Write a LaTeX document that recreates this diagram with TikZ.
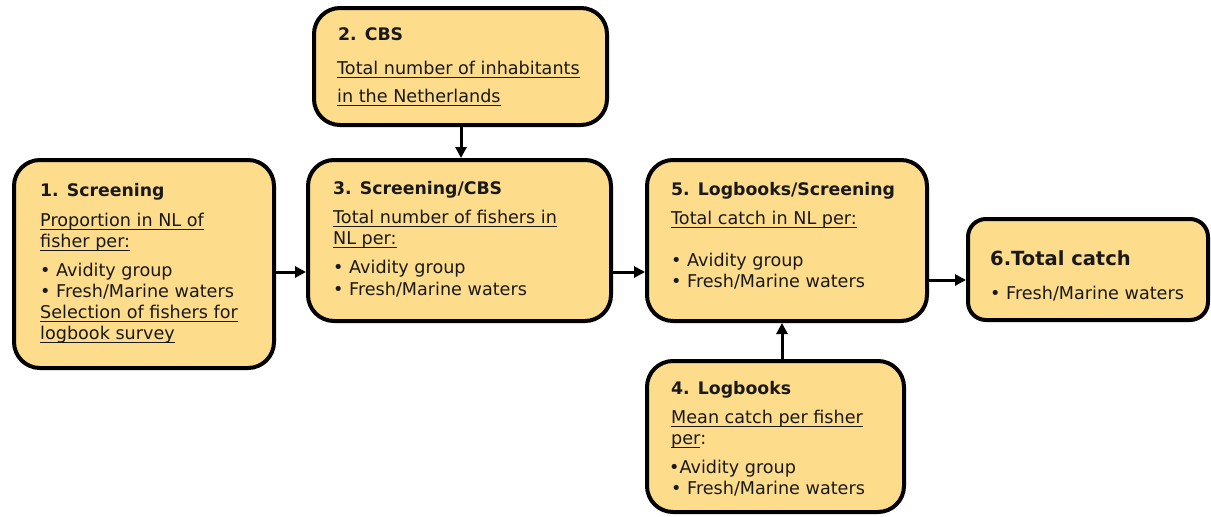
\documentclass[tikz,border=0pt]{standalone}
\usepackage{fontspec}
\setmainfont{DejaVu Sans}
\usetikzlibrary{arrows.meta}
\definecolor{boxfill}{RGB}{253,220,140}
\definecolor{ink}{RGB}{25,25,25}
\newcommand\myul[1]{\setbox0\hbox{#1}\rlap{\rule[-3.5pt]{\wd0}{1pt}}\box0}
\begin{document}
\begin{tikzpicture}[x=1pt,y=-1pt,
  box/.style={draw=black, line width=4pt, fill=boxfill, rounded corners=26pt, inner sep=0pt, anchor=north west},
  ttl/.style={anchor=base west, inner sep=0pt, text=ink, font=\fontsize{17.3}{20}\selectfont\bfseries},
  txt/.style={anchor=base west, inner sep=0pt, text=ink, font=\fontsize{17.6}{20}\selectfont},
  arr/.style={line width=3pt, -{Triangle[length=11pt,width=11pt]}}]
\useasboundingbox (0,0) rectangle (1211,517);
% boxes
\node[box, minimum width=260pt, minimum height=208pt] (b1) at (12,158) {};
\node[box, minimum width=293pt, minimum height=117pt] (b2) at (312,6) {};
\node[box, minimum width=303pt, minimum height=161pt] (b3) at (306,158) {};
\node[box, minimum width=280pt, minimum height=161pt] (b5) at (645,158) {};
\node[box, minimum width=257pt, minimum height=151pt] (b4) at (645,359) {};
\node[box, rounded corners=18pt, minimum width=240pt, minimum height=101pt] (b6) at (966,217) {};
% box 1
\node[ttl] (t1a) at (40,196.5) {1. Screening};
\node[txt] (t1b) at (40,226) {\myul{Proportion in NL of}};
\node[txt] (t1c) at (40,247) {\myul{fisher per:}};
\node[txt] (t1d) at (40,276) {• Avidity group};
\node[txt] (t1e) at (40,297.5) {• Fresh/Marine waters};
\node[txt] (t1f) at (40,318.5) {\myul{Selection of fishers for}};
\node[txt] (t1g) at (40,339) {\myul{logbook survey}};
% box 2
\node[ttl] (t2a) at (338,40) {2. CBS};
\node[txt] (t2b) at (337,74) {\myul{Total number of inhabitants}};
\node[txt] (t2c) at (337,102) {\myul{in the Netherlands}};
% box 3
\node[ttl] (t3a) at (333,194) {3. Screening/CBS};
\node[txt] (t3b) at (333,223) {\myul{Total number of fishers in}};
\node[txt] (t3c) at (333,244.5) {\myul{NL per:}};
\node[txt] (t3d) at (333,273) {• Avidity group};
\node[txt] (t3e) at (333,295) {• Fresh/Marine waters};
% box 5
\node[ttl] (t5a) at (671,195) {5. Logbooks/Screening};
\node[txt] (t5b) at (671,224) {\myul{Total catch in NL per:}};
\node[txt] (t5c) at (671,266) {• Avidity group};
\node[txt] (t5d) at (671,287) {• Fresh/Marine waters};
% box 4
\node[ttl] (t4a) at (671,394) {4. Logbooks};
\node[txt] (t4b) at (671,423) {\myul{Mean catch per fisher}};
\node[txt] (t4c) at (671,444) {\myul{per}:};
\node[txt] (t4d) at (669,473.5) {•Avidity group};
\node[txt] (t4e) at (671,494.5) {• Fresh/Marine waters};
% box 6
\node[ttl, font=\fontsize{19.5}{22}\selectfont\bfseries] (t6a) at (990,265) {6.Total catch};
\node[txt] (t6b) at (990,299.5) {• Fresh/Marine waters};
% arrows
\coordinate (y13) at (0,272);
\coordinate (y56) at (0,280);
\coordinate (x23) at (461,0);
\coordinate (x45) at (782,0);
\draw[arr] (b1.east |- y13) -- (b3.west |- y13);
\draw[arr] (b3.east |- y13) -- (b5.west |- y13);
\draw[arr] (b5.east |- y56) -- (b6.west |- y56);
\draw[arr] (b2.south -| x23) -- (b3.north -| x23);
\draw[arr] (b4.north -| x45) -- (b5.south -| x45);
\end{tikzpicture}
\end{document}
